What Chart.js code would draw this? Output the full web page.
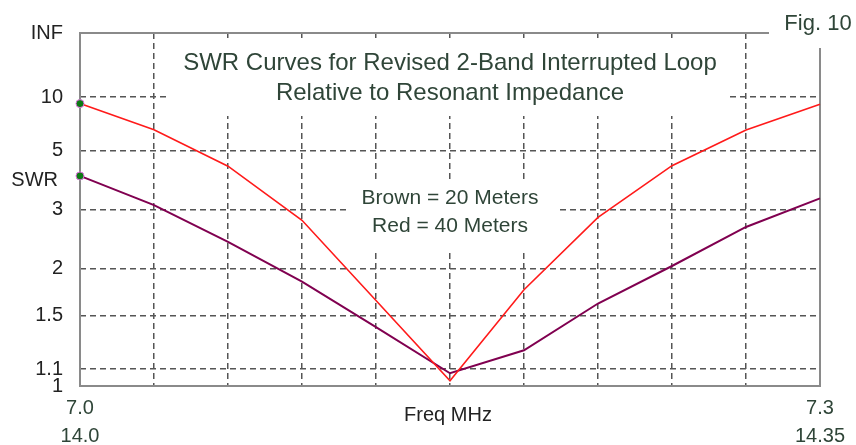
<!DOCTYPE html>
<html lang="en">
<head>
<meta charset="UTF-8">
<title>SWR Curves - 2-Band Interrupted Loop</title>
<style>
    body { margin: 0; background: #ffffff; }
    .container { width: 856px; height: 445px; position: relative; }
</style>
</head>
<body>
<div class="container"><canvas id="swrChart"></canvas></div>
<script src="https://cdn.jsdelivr.net/npm/chart.js"></script>
<script>
// 40 meter band (red)
const freq40 = [7.00, 7.03, 7.06, 7.09, 7.12, 7.15, 7.18, 7.21, 7.24, 7.27, 7.30];
const swr40 = [9.0, 6.3, 4.3, 2.77, 1.64, 1.03, 1.75, 2.83, 4.32, 6.27, 8.9];

// 20 meter band (brown)
const freq20 = [14.000, 14.035, 14.070, 14.105, 14.140, 14.175, 14.210, 14.245, 14.280, 14.315, 14.350];
const swr20 = [3.94, 3.10, 2.38, 1.84, 1.40, 1.075, 1.225, 1.61, 2.03, 2.64, 3.27];

// axis ticks
const swrTicks = [1, 1.1, 1.5, 2, 3, 5, 10, Infinity];
const swrTickLabels = ['1', '1.1', '1.5', '2', '3', '5', '10', 'INF'];
const xTickLabels = [['7.0', '14.0'], '', '', '', '', '', '', '', '', '', ['7.3', '14.35']];

const titleLines = ['SWR Curves for Revised 2-Band Interrupted Loop', 'Relative to Resonant Impedance'];
const noteLines = ['Brown = 20 Meters', 'Red = 40 Meters'];

const FONT = '"Liberation Sans", Arial, sans-serif';
const TEXT_GREEN = '#2f4538';

// SWR plotted on a reflection coefficient scale (1 at bottom, INF at top)
function rho(swr) {
    return swr === Infinity ? 1 : (swr - 1) / (swr + 1);
}

function firstPointOnly(n, first, rest) {
    return Array.from({length: n}, (_, i) => i === 0 ? first : rest);
}

// frame, title box, notes and axis captions
const decorations = {
    id: 'decorations',
    beforeDatasetsDraw(chart) {
        const {ctx, chartArea: a} = chart;
        const cx = (a.left + a.right) / 2;
        ctx.save();

        // white boxes the grid stops at
        ctx.fillStyle = '#ffffff';
        ctx.fillRect(170, a.top + 5, 557, 78);
        ctx.fillRect(349, 181, 209, 68);
        ctx.fillRect(a.right - 51, 0, 856 - a.right + 51, a.top + 15);

        // frame
        ctx.strokeStyle = '#8a8a8a';
        ctx.lineWidth = 2;
        ctx.beginPath();
        ctx.moveTo(a.right - 51, a.top);
        ctx.lineTo(a.left, a.top);
        ctx.lineTo(a.left, a.bottom);
        ctx.lineTo(a.right, a.bottom);
        ctx.lineTo(a.right, a.top + 15);
        ctx.stroke();

        ctx.textBaseline = 'middle';
        ctx.textAlign = 'center';

        ctx.fillStyle = TEXT_GREEN;
        ctx.font = '24px ' + FONT;
        titleLines.forEach((t, i) => ctx.fillText(t, cx, 63 + i * 30));

        ctx.font = '21px ' + FONT;
        noteLines.forEach((t, i) => ctx.fillText(t, cx, 198 + i * 28));

        ctx.font = '22px ' + FONT;
        ctx.fillText('Fig. 10', 818, 24);

        ctx.fillStyle = '#222222';
        ctx.font = '20px ' + FONT;
        ctx.fillText('Freq MHz', cx - 2, 415);
        ctx.textAlign = 'right';
        ctx.fillText('SWR', 58, 180);

        ctx.restore();
    }
};

const ctx = document.getElementById('swrChart').getContext('2d');

const chart = new Chart(ctx, {
    type: 'line',
    data: {
        datasets: [
            {
                label: '40 Meters',
                data: freq40.map((f, i) => ({x: f, y: rho(swr40[i])})),
                xAxisID: 'x',
                borderColor: '#ff1a1a',
                borderWidth: 1.6,
                pointRadius: firstPointOnly(freq40.length, 4, 0),
                pointBackgroundColor: '#0c7a14',
                pointBorderColor: '#e070e0',
                pointBorderWidth: 1,
                tension: 0
            },
            {
                label: '20 Meters',
                data: freq20.map((f, i) => ({x: f, y: rho(swr20[i])})),
                xAxisID: 'x20',
                borderColor: '#800050',
                borderWidth: 2,
                pointRadius: firstPointOnly(freq20.length, 4, 0),
                pointBackgroundColor: '#0c7a14',
                pointBorderColor: '#e070e0',
                pointBorderWidth: 1,
                tension: 0
            }
        ]
    },
    options: {
        responsive: true,
        maintainAspectRatio: false,
        animation: false,
        clip: false,
        layout: {
            padding: {top: 33, right: 36, left: 0, bottom: 0}
        },
        plugins: {
            legend: {display: false},
            tooltip: {enabled: false}
        },
        scales: {
            x: {
                type: 'linear',
                min: freq40[0],
                max: freq40[freq40.length - 1],
                afterBuildTicks: scale => {
                    scale.ticks = freq40.map(v => ({value: v}));
                },
                afterFit: scale => { scale.height = 59; },
                ticks: {
                    autoSkip: false,
                    maxRotation: 0,
                    padding: 8,
                    color: TEXT_GREEN,
                    font: {family: FONT, size: 20, lineHeight: 1.4},
                    callback: (value, index) => xTickLabels[index]
                },
                grid: {
                    color: '#555555',
                    lineWidth: 1.5,
                    drawTicks: false
                },
                border: {display: false, dash: [6, 4]}
            },
            x20: {
                type: 'linear',
                display: false,
                min: freq20[0],
                max: freq20[freq20.length - 1]
            },
            y: {
                type: 'linear',
                min: 0,
                max: 1,
                afterBuildTicks: scale => {
                    scale.ticks = swrTicks.map(s => ({value: rho(s)}));
                },
                afterFit: scale => { scale.width = 80; },
                ticks: {
                    autoSkip: false,
                    padding: 17,
                    color: '#222222',
                    font: {family: FONT, size: 20},
                    callback: (value, index) => swrTickLabels[index]
                },
                grid: {
                    color: '#555555',
                    lineWidth: 1.5,
                    drawTicks: false
                },
                border: {display: false, dash: [6, 4]}
            }
        }
    },
    plugins: [decorations]
});
</script>
</body>
</html>
